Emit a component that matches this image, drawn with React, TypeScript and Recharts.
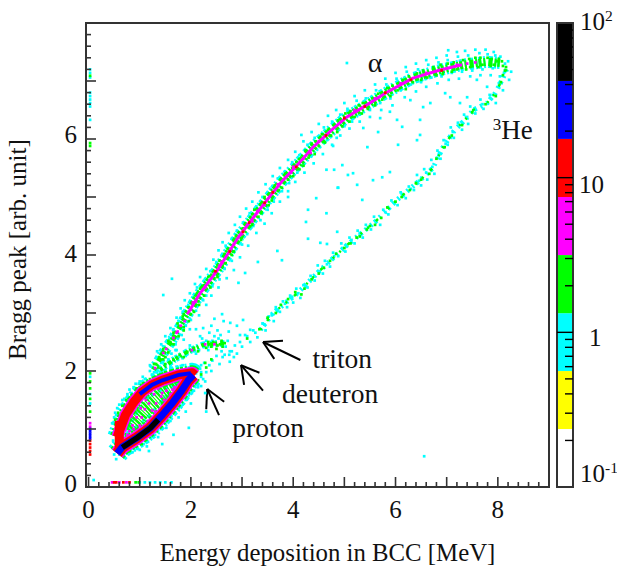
import React from 'react';
import { ScatterChart, Scatter, XAxis, YAxis, ReferenceLine, ReferenceArea, ReferenceDot } from 'recharts';

type P = number[];
const FONT = '"Liberation Serif", "Times New Roman", serif';
const INK = '#333333';

const xTickValues = [0,0.2,0.4,0.6,0.8,1,1.2,1.4,1.6,1.8,2,2.2,2.4,2.6,2.8,3,3.2,3.4,3.6,3.8,4,4.2,4.4,4.6,4.8,5,5.2,5.4,5.6,5.8,6,6.2,6.4,6.6,6.8,7,7.2,7.4,7.6,7.8,8,8.2,8.4,8.6,8.8];
const yTickValues = [0,0.2,0.4,0.6,0.8,1,1.2,1.4,1.6,1.8,2,2.2,2.4,2.6,2.8,3,3.2,3.4,3.6,3.8,4,4.2,4.4,4.6,4.8,5,5.2,5.4,5.6,5.8,6,6.2,6.4,6.6,6.8,7,7.2,7.4,7.6,7.8];
const zTickValues = [0.2,0.3,0.4,0.5,0.6,0.7,0.8,0.9,1,2,3,4,5,6,7,8,9,10,20,30,40,50,60,70,80,90];
const zBandEdges = [0.1,0.237,0.562,1.33,3.16,7.5,17.8,42.2,100];
const zBandColors = ['#ffffff','#ffff00','#00ffff','#00ff00','#ff00ff','#ff0000','#0000ff','#000000'];

const alphaTail: P[] = [[1.27,2.02],[1.46,2.31],[1.66,2.57],[1.85,2.86],[1.93,2.98]];
const alphaRidge: P[] = [[1.93,2.98],[2.18,3.34],[2.52,3.74],[2.73,4.03],[2.93,4.31],[3.26,4.69],[3.49,4.95],[3.8,5.29],[4.08,5.55],[4.39,5.86],[4.76,6.16],[5.05,6.38],[5.37,6.55],[5.84,6.81],[6.34,7.05],[6.87,7.19],[7.32,7.28],[7.79,7.33],[8.04,7.31]];
const alphaCore: P[] = [[1.93,2.98],[2.18,3.34],[2.52,3.74],[2.73,4.03],[2.93,4.31],[3.26,4.69],[3.49,4.95],[3.8,5.29],[4.08,5.55],[4.39,5.86],[4.76,6.16],[5.05,6.38],[5.37,6.55],[5.84,6.81],[6.34,7.05],[6.87,7.19],[7.3,7.28]];
const helionRidge: P[] = [[3.36,2.71],[3.61,3.0],[4.08,3.34],[4.53,3.74],[5.05,4.17],[5.6,4.57],[6.03,4.95],[6.48,5.29],[6.73,5.5],[6.93,5.86],[7.16,6.16],[7.36,6.33],[7.52,6.5],[7.79,6.62],[7.95,6.79],[8.1,7.05],[8.18,7.22]];
const deuteronRidge: P[] = [[1.4,2.02],[1.66,2.19],[1.93,2.33],[2.24,2.45],[2.57,2.48],[2.67,2.47]];
const protonLower: P[] = [[0.56,0.58],[0.66,0.69],[0.95,0.85],[1.21,1.02],[1.42,1.22],[1.64,1.45],[1.82,1.66],[1.95,1.84],[2.05,1.93]];
const protonLowerCore: P[] = [[0.66,0.68],[0.95,0.85],[1.21,1.02],[1.36,1.16]];
const protonUpper: P[] = [[0.56,0.86],[0.72,1.24],[0.88,1.46],[1.05,1.64],[1.24,1.76],[1.44,1.84],[1.75,1.93],[2.03,1.97],[2.08,1.93]];
const protonUpperCore: P[] = [[1.0,1.6],[1.24,1.76],[1.44,1.84],[1.75,1.93],[2.0,1.96]];
const protonEdge: P[] = [[0.6,0.66],[0.6,1.14]];
const protonMiddle: P[] = [[0.76,1.0],[1.1,1.32],[1.45,1.6],[1.8,1.82]];

const cyanPoints: P[] = [
[1.35,2.22],[1.42,2.14],[1.48,2.42],[1.62,2.3],[1.58,2.55],[1.7,2.46],[1.66,2.72],[1.82,2.62],[1.76,2.86],[1.9,2.78],[1.84,3.02],[2.0,2.88],[1.95,3.14],[2.1,3.04],[2.06,3.3],[2.24,3.22],[2.12,3.44],[2.3,3.3],[2.26,3.56],[2.42,3.46],[2.38,3.72],[2.56,3.58],[2.5,3.88],[2.66,3.76],[2.6,3.98],[2.8,3.9],[2.68,4.16],[2.88,4.1],[2.8,4.28],[3.0,4.18],[2.9,4.42],[3.1,4.36],[3.02,4.56],[3.22,4.5],[3.15,4.72],[3.36,4.6],[3.28,4.84],[3.5,4.78],[3.4,5.0],[3.62,4.92],[3.55,5.14],[3.78,5.1],[3.7,5.32],[3.92,5.24],[3.84,5.44],[4.08,5.42],[3.98,5.6],[4.2,5.56],[4.12,5.72],[4.35,5.7],[4.28,5.9],[4.52,5.86],[4.42,6.02],[4.66,5.98],[4.6,6.2],[4.85,6.02],[4.76,6.3],[5.0,6.22],[4.92,6.42],[5.15,6.3],[5.06,6.52],[5.3,6.42],[5.24,6.66],[5.5,6.5],[5.42,6.7],[5.7,6.62],[5.62,6.84],[5.9,6.7],[5.82,6.94],[6.1,6.84],[6.02,7.04],[6.3,6.94],[6.22,7.16],[6.5,6.98],[6.44,7.2],[6.7,7.06],[6.64,7.28],[6.9,7.08],[6.84,7.32],[7.1,7.14],[7.02,7.36],[7.3,7.16],[7.22,7.42],[7.5,7.18],[7.42,7.44],[7.64,7.48],[7.7,7.2],[7.8,7.46],[7.9,7.22],[7.95,7.44],[8.05,7.42],[8.14,7.3],[8.2,7.34],[8.26,7.16],[8.12,7.14],[8.22,7.02],
[1.63,3.59],[1.46,3.31],[2.61,2.98],[2.93,3.52],[3.06,3.69],[3.31,3.88],[3.78,3.91],[3.69,4.07],[3.9,5.0],[4.45,4.98],[4.29,4.78],[4.65,4.72],[4.25,4.57],[4.29,4.28],[4.53,4.21],[4.66,4.19],[4.86,4.4],[4.88,5.16],[4.65,5.47],[4.8,5.47],[4.16,6.07],[4.78,5.88],[6.56,0.53],
[6.97,6.79],[6.68,6.62],[6.54,6.55],[6.29,6.67],[5.89,6.47],[5.7,6.36],[6.03,6.33],[5.37,6.19],[6.48,6.33],[7.07,6.72],[7.4,6.72],[7.26,6.62],[7.59,7.02],[7.79,6.9],[5.05,7.31],[7.03,7.53],[6.48,6.07],[6.42,5.98],[6.05,5.9],[5.45,5.86],[5.66,6.12],[6.13,6.21],[4.96,5.55],[4.87,5.16],[5.07,5.38],[5.17,5.41],[5.25,5.21],[5.56,5.29],[5.74,5.34],[5.89,5.43],[5.35,4.95],
[1.28,1.98],[1.2,2.1],[1.34,2.34],[1.42,2.46],[1.5,2.6],[1.6,2.74],[1.72,2.92],[1.8,3.08],[1.88,3.22],[1.98,3.34],[2.08,3.5],[2.18,3.62],[2.3,3.76],[2.44,3.92],[2.54,4.08],[2.62,4.22],[2.74,4.38],[2.86,4.52],[2.96,4.66],[3.08,4.8],[3.2,4.92],[3.32,5.08],[3.46,5.22],[3.6,5.36],[3.74,5.5],[3.9,5.64],[4.04,5.78],[4.2,5.96],[4.36,6.12],[4.5,6.26],[4.68,6.4],[4.84,6.5],[5.0,6.62],[5.2,6.74],[5.4,6.84],[5.6,6.94],[5.8,7.04],[6.0,7.14],[6.2,7.24],[6.4,7.3],[6.6,7.36],[6.8,7.4],[7.0,7.44],[7.2,7.5],[7.36,7.52],[7.56,7.54],[7.76,7.54],[7.92,7.5],
[1.56,2.2],[1.7,2.36],[1.86,2.54],[1.98,2.72],[2.16,2.96],[2.3,3.14],[2.4,3.3],[2.54,3.44],[2.7,3.6],[2.84,3.74],[2.96,3.96],[3.12,4.16],[3.28,4.38],[3.44,4.54],[3.58,4.72],[3.74,4.92],[3.9,5.1],[4.04,5.26],[4.22,5.42],[4.4,5.58],[4.58,5.74],[4.76,5.9],[4.92,6.06],[5.1,6.18],[5.3,6.3],[5.5,6.38],[5.72,6.5],[5.94,6.58],[6.18,6.72],[6.4,6.82],[6.6,6.9],[6.82,6.96],[7.04,7.02],[7.24,7.04],[7.46,7.08],[7.66,7.1],[7.86,7.1],[8.04,7.08],
[2.75,2.28],[2.9,2.3],[2.86,2.44],[3.0,2.42],[3.06,2.62],[3.16,2.5],[3.22,2.7],[3.3,2.58],[3.4,2.82],[3.46,2.7],[3.52,2.94],[3.62,2.86],[3.66,3.1],[3.74,3.02],[3.8,3.2],[3.88,3.1],[3.94,3.3],[4.0,3.18],[4.06,3.42],[4.14,3.26],[4.2,3.48],[4.28,3.44],[4.34,3.64],[4.42,3.56],[4.48,3.82],[4.58,3.68],[4.62,3.9],[4.72,3.8],[4.78,4.04],[4.88,3.98],[4.94,4.2],[5.02,4.06],[5.1,4.3],[5.2,4.2],[5.26,4.42],[5.36,4.3],[5.42,4.52],[5.52,4.44],[5.58,4.66],[5.7,4.52],[5.76,4.78],[5.86,4.7],[5.92,4.94],[6.04,4.86],[6.1,5.08],[6.2,4.98],[6.26,5.18],[6.36,5.12],[6.42,5.38],[6.5,5.2],[6.56,5.48],[6.62,5.3],[6.7,5.64],[6.76,5.4],[6.82,5.8],[6.88,5.66],[6.94,5.98],[7.02,5.9],[7.08,6.2],[7.14,6.02],[7.22,6.28],[7.3,6.16],[7.34,6.42],[7.42,6.26],[7.46,6.56],[7.56,6.44],[7.66,6.68],[7.72,6.52],[7.84,6.76],[7.96,6.62],[8.02,6.9],[8.1,6.84],
[2.8,2.34],[2.96,2.5],[3.1,2.6],[3.26,2.66],[3.44,2.8],[3.58,2.96],[3.7,3.06],[3.84,3.16],[3.98,3.28],[4.1,3.34],[4.24,3.46],[4.38,3.6],[4.52,3.72],[4.66,3.84],[4.8,3.98],[4.96,4.12],[5.14,4.26],[5.3,4.36],[5.46,4.48],[5.62,4.58],[5.8,4.74],[5.98,4.9],[6.14,5.02],[6.3,5.14],[6.46,5.28],[6.6,5.42],[6.72,5.52],[6.84,5.72],[6.98,5.92],[7.12,6.12],[7.26,6.24],[7.4,6.38],[7.52,6.5],[7.7,6.6],[7.9,6.76],[8.02,6.96],[8.14,7.16],
[1.5,2.1],[1.6,2.04],[1.72,2.36],[1.84,2.22],[1.98,2.44],[2.1,2.3],[2.22,2.56],[2.34,2.36],[2.46,2.6],[2.6,2.34],[2.72,2.52],[2.84,2.24],[2.2,2.1],[2.3,1.98],[2.42,2.18],[2.56,2.12],[2.66,2.28],[2.76,2.16],[2.14,1.76],[2.2,1.9],[2.28,1.82],[2.4,2.0],[2.24,2.74],[2.4,2.78],[2.52,2.7],[2.64,2.86],[2.77,2.83],[2.9,2.78],[3.02,2.88],[3.16,2.71],[2.1,2.72],[2.46,2.9],[2.18,2.6],[2.36,2.66],[2.58,2.62],[2.74,2.68],[2.96,2.62],[1.62,2.14],[1.76,2.24],[1.9,2.26],[2.02,2.34],[2.16,2.36],[2.3,2.52],[2.42,2.52],[2.54,2.56],[2.68,2.42],[2.76,2.34],[2.18,2.04],[2.26,2.14],[2.36,2.1],[2.5,2.26],[2.62,2.24],[2.1,1.96],[2.2,1.98],[2.24,1.86],
[0.5,0.56],[0.54,0.48],[0.7,0.52],[0.86,0.6],[1.0,0.64],[1.16,0.78],[1.3,0.9],[1.42,1.0],[1.56,1.16],[1.7,1.28],[1.84,1.42],[1.96,1.58],[2.06,1.66],[2.2,1.74],[2.3,1.3],[1.96,1.02],[1.66,0.9],[1.44,0.74],[1.6,1.14],[1.18,0.62],[1.9,1.3],[2.28,1.62],[0.46,1.1],[0.52,1.28],[0.6,1.42],[0.7,1.52],[0.8,1.68],[0.92,1.78],[1.06,1.9],[1.2,2.0],[1.32,1.98],[0.84,1.62],[1.0,1.82],[1.5,2.02],[1.74,2.06],[1.96,2.06],
[0.48,0.66],[0.48,0.8],[0.48,0.94],[0.5,1.2],[0.56,1.36],[0.66,1.5],[0.76,1.6],[0.88,1.72],[0.98,1.78],[1.1,1.86],[1.24,1.94],[1.4,1.98],[1.6,2.08],[1.84,2.1],[0.6,0.56],[0.76,0.58],[0.94,0.66],[1.08,0.74],[1.24,0.86],[1.36,0.98],[1.5,1.1],[1.62,1.22],[1.76,1.36],[1.9,1.5],[2.02,1.62],[2.14,1.72],[0.84,0.66],[1.02,0.76],[1.12,0.84],[1.3,0.98],[1.44,1.1],[1.56,1.24],[1.7,1.4],[1.8,1.5],[1.96,1.66],[2.08,1.74],[1.14,0.7],[1.36,0.86],[1.52,1.02],[1.76,1.2],[2.0,1.44],
[0.03,7.2],[0.03,7.14],[0.03,7.06],[0.03,6.8],[0.03,6.74],[0.03,6.68],[0.03,6.62],[0.03,6.56],[0.03,6.33],[0.03,1.9],[0.03,1.6],[0.03,1.44],
[1.0,0.08],[1.1,0.08],[1.2,0.08],[1.3,0.08],[1.4,0.08],[1.5,0.08],[1.62,0.08],[0.1,0.12]
];

const greenPoints: P[] = [
[1.32,2.12],[1.42,2.3],[1.5,2.24],[1.6,2.5],[1.68,2.56],[1.76,2.76],[1.86,2.76],[1.84,2.94],[2.0,2.98],[2.02,3.18],[2.14,3.2],[2.18,3.42],[2.3,3.42],[2.34,3.62],[2.46,3.6],[2.52,3.82],[2.62,3.82],[2.66,4.02],[2.8,4.0],[2.84,4.24],[2.98,4.26],[3.02,4.46],[3.16,4.5],[3.2,4.7],[3.32,4.66],[3.36,4.88],[3.52,4.86],[3.56,5.06],[3.72,5.12],[3.76,5.3],[3.9,5.3],[3.98,5.5],[4.12,5.48],[4.16,5.68],[4.3,5.68],[4.36,5.92],[4.5,5.88],[4.56,6.08],[4.74,6.06],[4.8,6.24],[4.96,6.22],[5.02,6.44],[5.2,6.38],[5.28,6.58],[5.46,6.52],[5.56,6.7],[5.74,6.68],[5.84,6.88],[6.04,6.84],[6.14,7.02],[6.34,6.98],[6.42,7.13],[6.62,7.06],[6.74,7.24],[6.92,7.12],[7.02,7.3],[7.2,7.2],[7.32,7.36],[7.46,7.24],[7.56,7.4],[7.7,7.28],[7.8,7.4],[7.92,7.28],[8.02,7.38],[8.1,7.26],[8.14,7.18],[8.1,7.1],[8.06,6.98],
[1.28,2.12],[1.36,2.06],[1.38,2.24],[1.46,2.2],[1.46,2.38],[1.56,2.32],[1.56,2.52],[1.66,2.46],[1.66,2.66],[1.76,2.6],[1.74,2.82],[1.86,2.7],[1.86,2.98],[1.96,2.86],[1.96,3.1],[2.06,3.02],[2.06,3.26],[2.16,3.14],[2.12,3.34],[2.26,3.3],[2.26,3.48],[2.38,3.44],[2.4,3.66],[2.52,3.62],[2.56,3.9],[2.68,3.86],[2.72,4.1],[2.84,4.06],[2.88,4.32],[3.0,4.3],[3.06,4.54],[3.2,4.52],[3.24,4.78],[3.38,4.72],[3.44,5.0],[3.58,4.94],[3.64,5.2],[3.78,5.16],[3.84,5.4],[4.0,5.36],[4.06,5.6],[4.2,5.54],[4.24,5.8],[4.42,5.74],[4.44,5.96],[4.62,5.94],[4.68,6.16],[4.86,6.12],[4.88,6.32],[5.1,6.3],[5.12,6.48],[5.34,6.44],[5.36,6.62],[5.6,6.58],[5.66,6.78],[5.9,6.74],[5.94,6.92],[6.2,6.86],[6.26,7.08],[6.5,7.02],[6.54,7.18],[6.8,7.1],[6.88,7.28],[7.1,7.16],[7.14,7.32],[7.38,7.2],[7.44,7.38],[7.62,7.24],[7.66,7.4],[7.86,7.26],[7.88,7.38],[7.98,7.34],[8.08,7.34],[8.16,7.24],
[3.1,2.56],[3.5,2.92],[3.76,3.14],[4.04,3.36],[4.36,3.58],[4.6,3.78],[4.84,4.02],[5.12,4.2],[5.44,4.44],[5.72,4.64],[6.0,4.92],[6.28,5.12],[6.5,5.3],[6.66,5.4],[6.8,5.66],[6.96,5.86],[7.1,6.06],[7.3,6.24],[7.5,6.46],[7.76,6.6],[7.96,6.74],[3.9,3.24],[4.22,3.42],[5.3,4.32],[5.6,4.52],[6.4,5.24],[3.34,2.72],[3.66,3.0],[4.16,3.32],[4.5,3.68],[4.72,3.9],[5.0,4.12],[5.24,4.3],[5.5,4.5],[5.84,4.82],[6.12,5.0],
[1.5,2.12],[1.66,2.19],[1.78,2.28],[1.93,2.33],[2.06,2.4],[2.24,2.45],[2.36,2.46],[2.48,2.48],[2.57,2.46],[2.66,2.48],[2.4,2.42],[2.52,2.44],[2.3,2.4],[1.86,2.24],[2.14,2.34],[2.2,1.94],[2.3,2.06],[2.44,2.5],[2.6,2.52],[2.34,2.5],[2.5,2.38],[2.62,2.42],[2.28,2.14],[2.4,2.2],
[0.7,1.28],[0.78,1.42],[0.9,1.56],[1.0,1.72],[1.14,1.8],[1.32,1.9],[1.5,1.98],[1.72,2.0],[1.9,2.02],[0.62,0.6],[0.8,0.62],[1.04,0.74],[1.24,0.92],[1.46,1.14],[1.62,1.32],[1.8,1.52],[1.98,1.72],
[0.52,1.16],[0.58,1.28],[0.66,1.4],[0.74,1.5],[0.84,1.58],[0.94,1.7],[1.06,1.78],[1.2,1.86],[1.4,1.94],[1.6,2.0],[1.82,2.04],[2.0,2.04],[2.12,2.0],[0.74,0.6],[0.92,0.7],[1.1,0.82],[1.3,0.96],[1.4,1.08],[1.54,1.24],[1.72,1.44],[1.88,1.62],[2.04,1.76],[2.14,1.84],
[0.03,1.96],[0.03,1.82],[0.03,1.7],[0.03,1.52],[0.03,1.3],[0.03,7.09],[0.03,5.93],[0.03,5.88],[0.92,0.08],[0.98,0.08]
];

const magentaPoints: P[] = [
[1.3,2.05],[1.46,2.31],[1.52,2.38],[1.66,2.57],[1.74,2.68],[1.72,2.66],[1.8,2.78],[1.88,2.86],[2.0,3.06],[2.1,3.2],[2.24,3.4],[2.36,3.56],[2.46,3.68],[2.6,3.88],[2.78,4.1],[3.0,4.36],[3.1,4.52],[3.3,4.76],[3.62,5.1],[3.96,5.42],[4.2,5.66],[4.5,5.96],[5.2,6.5],[5.6,6.7],[2.04,3.18],[2.28,3.44],[2.56,3.82],[2.84,4.18],[3.2,4.58],[3.44,4.86],[3.7,5.22],[4.0,5.52],[4.34,5.76],[4.66,6.08],[7.2,7.28],[7.4,7.3],[7.56,7.32],[6.6,7.14],[6.1,6.96],
[2.02,2.36],[2.28,2.46],[2.46,2.46],
[0.76,1.12],[0.84,1.22],[0.72,0.98],[0.86,1.06],[0.94,1.2],[1.02,1.36],[1.0,1.06],[1.1,1.34],[1.18,1.44],[1.16,1.14],[1.24,1.32],[1.32,1.44],[1.42,1.56],[1.52,1.66],[1.3,1.3],[1.44,1.62],[1.64,1.68],[1.74,1.72],[1.84,1.82],[1.6,1.6],[0.7,0.84],[0.64,1.04],[0.8,0.96],[1.36,1.7],[1.56,1.82],[1.2,1.66],[0.76,0.9],[0.88,1.0],[0.82,1.32],[1.04,1.2],[1.12,1.5],[1.28,1.6],[1.48,1.5],[1.68,1.72],[1.8,1.78],[1.92,1.78],
[0.46,0.08],[0.6,0.08],[0.74,0.08],[0.03,1.1],[0.03,1.04]
];

const redPoints: P[] = [
[2.48,3.72],[2.76,4.06],[3.14,4.56],[3.44,4.9],[4.06,5.52],[4.64,6.06],[5.0,6.36],[5.8,6.8],[6.3,7.02],[6.9,7.18],[3.6,5.08],[3.02,4.4],[5.4,6.56],
[0.7,1.1],[0.74,1.22],
[0.5,0.08],[0.54,0.08],[0.68,0.08],[0.8,0.08],[0.03,0.8],[0.03,0.74],[0.03,0.68],[0.03,0.62],[0.03,0.56]
];

const bluePoints: P[] = [[0.03,1.0],[0.03,0.96],[0.03,0.92],[0.03,0.88],[0.03,0.84]];

const arrowShafts: P[][] = [
  [[2.32,1.69],[2.55,1.24]], [[2.32,1.69],[2.3,1.34]], [[2.32,1.69],[2.65,1.47]],
  [[2.98,2.1],[3.41,1.66]], [[2.98,2.1],[3.04,1.76]], [[2.98,2.1],[3.34,1.97]],
  [[3.41,2.5],[4.14,2.19]], [[3.41,2.5],[3.63,2.21]], [[3.41,2.5],[3.8,2.52]],
];

const toPts = (a: P[]) => a.map(([x, y]) => ({ x, y }));
const Blank = () => <g />;
const square = (color: string) => (p: any) => (
  <rect x={p.cx - 1.35} y={p.cy - 1.35} width={2.7} height={2.7} fill={color} />
);
const SPECKLE = '3 2 2 3 4 2 2 1';
const Stroke = (key: string, pts: P[], stroke: string, strokeWidth: number, strokeDasharray?: string) => (
  <Scatter key={key} data={toPts(pts)} shape={<Blank />} isAnimationActive={false} line={{ stroke, strokeWidth, strokeDasharray, strokeLinejoin: 'round' }} />
);

const XTick = ({ x, y, payload }: any) => {
  const v = payload.value;
  const major = Number.isInteger(v);
  return (
    <g>
      <line x1={x} x2={x} y1={y} y2={y - (major ? 10 : 5)} stroke={INK} strokeWidth={1.6} />
      {major && v % 2 === 0 && (
        <text x={x} y={y + 31} textAnchor="middle" fontFamily={FONT} fontSize={25} fill="#111">{v}</text>
      )}
    </g>
  );
};
const yLabelShift: Record<number, number> = { 0: -3, 2: 0, 4: -1, 6: -4 };
const YTick = ({ x, y, payload }: any) => {
  const v = payload.value;
  const major = Number.isInteger(v);
  return (
    <g>
      <line x1={x} x2={x + (major ? 10 : 5)} y1={y} y2={y} stroke={INK} strokeWidth={1.6} />
      {major && v % 2 === 0 && (
        <text x={x - 9} y={y + 8 + yLabelShift[v]} textAnchor="end" fontFamily={FONT} fontSize={25} fill="#111">{v}</text>
      )}
    </g>
  );
};
const ZTick = ({ x, y, payload }: any) => {
  const v = payload.value;
  const major = v === 1 || v === 10;
  return <line x1={x} x2={x - (major ? 16 : 8)} y1={y} y2={y} stroke="#000" strokeWidth={1.4} />;
};

const Superscripted = ({ viewBox, base, sup, size, dx, dy }: any) => (
  <text x={viewBox.x + dx} y={viewBox.y + dy} fontFamily={FONT} fontSize={size} fill="#111">
    {base}{sup ? <tspan dy={-9} fontSize={size * 0.62}>{sup}</tspan> : null}
  </text>
);
const HeLabel = ({ viewBox }: any) => (
  <text x={viewBox.x} y={viewBox.y} fontFamily={FONT} fontSize={27} fill="#111">
    <tspan dy={-9} fontSize={17}>3</tspan><tspan dy={9}>He</tspan>
  </text>
);

const note = (value: string, size = 27.5) => ({ value, position: 'center' as const, fontFamily: FONT, fontSize: size, fill: '#111' });

export default function App() {
  return (
    <div style={{ position: 'absolute', left: 0, top: 0, width: 617, height: 568, background: '#fff' }}>
      <div style={{ position: 'absolute', left: 0, top: 0 }}>
        <ScatterChart width={617} height={568} margin={{ top: 23, right: 68, bottom: 0, left: 0 }}>
          <XAxis type="number" dataKey="x" domain={[-0.05, 9]} ticks={xTickValues} interval={0} tickLine={false} tickSize={0} tickMargin={0} tick={<XTick />} height={81} axisLine={{ stroke: INK, strokeWidth: 2 }} allowDataOverflow
            label={{ value: 'Energy deposition in BCC [MeV]', position: 'insideBottom', offset: 7, fontFamily: FONT, fontSize: 24.8, fill: '#111', dx: 10 }} />
          <YAxis type="number" dataKey="y" domain={[0, 8]} ticks={yTickValues} interval={0} tickLine={false} tickSize={0} tickMargin={0} tick={<YTick />} width={86} axisLine={{ stroke: INK, strokeWidth: 2 }} allowDataOverflow
            label={{ value: 'Bragg peak [arb. unit]', angle: -90, position: 'insideLeft', offset: 17, fontFamily: FONT, fontSize: 25, fill: '#111', dy: 105 }} />

          {Stroke('a1', alphaRidge, '#00ffff', 12, SPECKLE)}
          {Stroke('a2', alphaTail, '#00ffff', 11, SPECKLE)}
          {Stroke('a3', helionRidge, '#00ffff', 5, '2 3 3 4 2 5')}
          {Stroke('a4', deuteronRidge, '#00ffff', 7, SPECKLE)}
          {Stroke('p1', protonUpper, '#00ffff', 20, SPECKLE)}
          {Stroke('p2', protonLower, '#00ffff', 22, SPECKLE)}
          <Scatter data={toPts(cyanPoints)} shape={square('#00ffff')} isAnimationActive={false} />
          {Stroke('g1', alphaRidge, '#00ff00', 8, SPECKLE)}
          {Stroke('g2', alphaTail, '#00ff00', 5, SPECKLE)}
          {Stroke('g3', helionRidge, '#00ff00', 2.5, '2 9 3 14 2 7')}
          {Stroke('g4', deuteronRidge, '#00ff00', 4, SPECKLE)}
          {Stroke('g5', protonUpper, '#00ff00', 15, SPECKLE)}
          {Stroke('g6', protonLower, '#00ff00', 17, SPECKLE)}
          {Stroke('g7', protonMiddle, '#00ff00', 14, '1.5 1 2.5 1 1 1.5')}
          <Scatter data={toPts(greenPoints)} shape={square('#00ff00')} isAnimationActive={false} />
          {Stroke('m1', protonUpper, '#ff00ff', 12)}
          {Stroke('m2', protonLower, '#ff00ff', 14)}
          {Stroke('m3', alphaCore, '#ff00ff', 3)}
          <Scatter data={toPts(magentaPoints)} shape={square('#ff00ff')} isAnimationActive={false} />
          {Stroke('r1', protonEdge, '#ff0000', 9)}
          {Stroke('r2', protonUpper, '#ff0000', 9)}
          {Stroke('r3', protonLower, '#ff0000', 11)}
          <Scatter data={toPts(redPoints)} shape={square('#ff0000')} isAnimationActive={false} />
          {Stroke('b1', protonUpperCore, '#0000ff', 4)}
          {Stroke('b2', protonLower, '#0000ff', 7)}
          <Scatter data={toPts(bluePoints)} shape={square('#0000ff')} isAnimationActive={false} />
          {Stroke('k1', protonLowerCore, '#000000', 5.5)}

          {arrowShafts.map((s, i) => (
            <ReferenceLine key={i} segment={[{ x: s[0][0], y: s[0][1] }, { x: s[1][0], y: s[1][1] }]} stroke="#000" strokeWidth={2} />
          ))}
          <ReferenceDot x={5.6} y={7.33} r={0} stroke="none" fill="none" label={note('α', 28)} />
          <ReferenceDot x={4.96} y={2.22} r={0} stroke="none" fill="none" label={note('triton')} />
          <ReferenceDot x={4.72} y={1.62} r={0} stroke="none" fill="none" label={note('deuteron')} />
          <ReferenceDot x={3.51} y={1.03} r={0} stroke="none" fill="none" label={note('proton')} />
          <ReferenceDot x={7.9} y={6.0} r={0} stroke="none" fill="none" label={<HeLabel />} />
          <ReferenceArea x1={-0.05} x2={9} y1={0} y2={8} fill="none" stroke={INK} strokeWidth={2} />
        </ScatterChart>
      </div>
      <div style={{ position: 'absolute', left: 0, top: 0 }}>
        <ScatterChart width={617} height={568} margin={{ top: 23, right: 0, bottom: 81, left: 557 }}>
          <XAxis type="number" dataKey="x" domain={[0, 1]} hide />
          <YAxis type="number" dataKey="y" orientation="right" scale="log" domain={[0.1, 100]} ticks={zTickValues} interval={0} width={44} tickLine={false} tickSize={0} tickMargin={0} axisLine={false} tick={<ZTick />} allowDataOverflow />
          <Scatter data={zBandEdges.map((y) => ({ x: 0.5, y }))} shape={<Blank />} isAnimationActive={false} />
          {zBandColors.map((c, i) => (
            <ReferenceArea key={c} x1={0} x2={1} y1={zBandEdges[i]} y2={zBandEdges[i + 1]} fill={c} fillOpacity={1} stroke="none" />
          ))}
          <ReferenceArea x1={0} x2={1} y1={0.1} y2={100} fill="none" stroke={INK} strokeWidth={2} />
          <ReferenceDot x={1} y={100} r={0} stroke="none" fill="none" label={<Superscripted base="10" sup="2" size={25} dx={7} dy={7} />} />
          <ReferenceDot x={1} y={10} r={0} stroke="none" fill="none" label={<Superscripted base="10" sup="" size={25} dx={6} dy={15} />} />
          <ReferenceDot x={1} y={1} r={0} stroke="none" fill="none" label={<Superscripted base="1" sup="" size={25} dx={16} dy={14} />} />
          <ReferenceDot x={1} y={0.1} r={0} stroke="none" fill="none" label={<Superscripted base="10" sup="-1" size={25} dx={7} dy={-5} />} />
        </ScatterChart>
      </div>
    </div>
  );
}
